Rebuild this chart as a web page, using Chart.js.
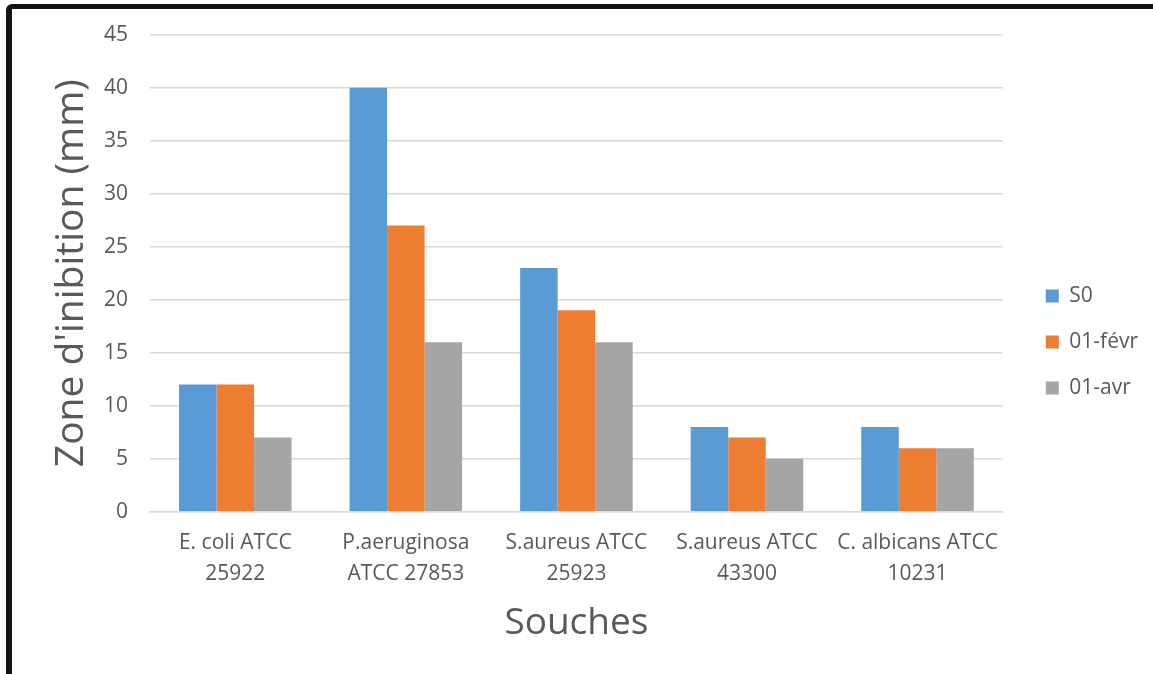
<!DOCTYPE html>
<html>
<head>
<meta charset="utf-8">
<script src="https://cdn.jsdelivr.net/npm/chart.js@4/dist/chart.umd.min.js"></script>
<style>
  html, body { margin: 0; padding: 0; background: #fff; }
  #frame {
    position: absolute;
    left: 6px;
    top: 4px;
    width: 1147px;
    height: 670px;
    border-top: 5px solid #141414;
    border-left: 6px solid #141414;
    border-top-left-radius: 6px;
    box-sizing: border-box;
    overflow: hidden;
  }
</style>
</head>
<body>
<div id="frame"><canvas id="chart" width="1141" height="665"></canvas></div>
<script>
const categories = [
    ['E. coli ATCC', '25922'],
    ['P.aeruginosa', 'ATCC 27853'],
    ['S.aureus ATCC', '25923'],
    ['S.aureus ATCC', '43300'],
    ['C. albicans ATCC', '10231']
];

const seriesNames = ['S0', '01-févr', '01-avr'];

const s0Values = [12, 40, 23, 8, 8];
const fevrValues = [12, 27, 19, 7, 6];
const avrValues = [7, 16, 16, 5, 6];

const seriesColors = ['#5B9BD5', '#ED7D31', '#A5A5A5'];

const textColor = '#595959';
const fontFamily = "'Open Sans', 'Noto Sans', sans-serif";

const ctx = document.getElementById('chart').getContext('2d');

new Chart(ctx, {

    type: 'bar',

    data: {
        labels: categories,

        datasets: [s0Values, fevrValues, avrValues].map((values, i) => ({
            label: seriesNames[i],
            data: values,
            backgroundColor: seriesColors[i],
            borderWidth: 0,
            categoryPercentage: 0.66,
            barPercentage: 1.0
        }))
    },

    options: {

        responsive: false,

        animation: false,

        layout: {
            padding: { top: 7, right: 5, bottom: 6, left: 40 }
        },

        plugins: {

            legend: {
                position: 'right',
                labels: {
                    color: textColor,
                    boxWidth: 13,
                    boxHeight: 13,
                    padding: 25,
                    font: { family: fontFamily, size: 21 }
                }
            },

            tooltip: { enabled: false }
        },

        scales: {

            x: {
                grid: {
                    display: false,
                    drawTicks: false
                },
                border: {
                    display: true,
                    color: '#D9D9D9',
                    width: 1.5
                },
                ticks: {
                    color: textColor,
                    padding: 16,
                    maxRotation: 0,
                    font: { family: fontFamily, size: 21, lineHeight: 1.48 }
                },
                title: {
                    display: true,
                    text: 'Souches',
                    color: textColor,
                    padding: { top: -1, bottom: 26 },
                    font: { family: fontFamily, size: 37, lineHeight: 1.0 }
                }
            },

            y: {
                min: 0,
                max: 45,
                grid: {
                    color: '#D9D9D9',
                    lineWidth: 1.5,
                    drawTicks: true,
                    tickLength: 9,
                    tickColor: 'rgba(0,0,0,0)'
                },
                border: { display: false },
                ticks: {
                    stepSize: 5,
                    color: textColor,
                    padding: 13,
                    font: { family: fontFamily, size: 21 }
                },
                title: {
                    display: true,
                    text: "Zone d'inibition (mm)",
                    color: textColor,
                    padding: { top: 0, bottom: 0 },
                    font: { family: fontFamily, size: 39, lineHeight: 1.0 }
                }
            },

            // empty spacer that keeps the legend clear of the plot
            gap: {
                position: 'right',
                display: true,
                grid: { display: false },
                border: { display: false },
                ticks: { display: false },
                afterFit: axis => { axis.width = 18; }
            }
        }
    }
});
</script>
</body>
</html>
